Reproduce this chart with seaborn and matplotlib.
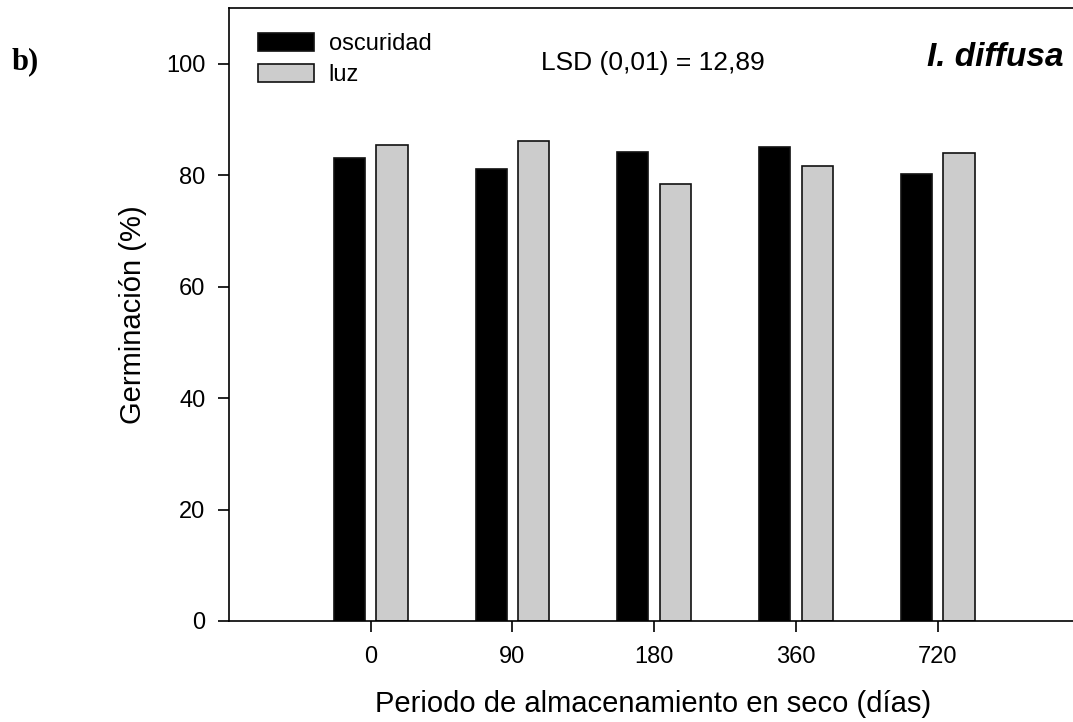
import matplotlib
matplotlib.use("Agg")
import matplotlib.pyplot as plt
import seaborn as sns
import pandas as pd

# Data
periods = ["0", "90", "180", "360", "720"]
oscuridad = [83.1, 81.1, 84.1, 85.1, 80.2]
luz = [85.4, 86.1, 78.4, 81.7, 84.0]
series_names = ["oscuridad", "luz"]

df = pd.DataFrame({
    "periodo": periods * 2,
    "germ": oscuridad + luz,
    "cond": [series_names[0]] * len(periods) + [series_names[1]] * len(periods),
})

sns.set_style("ticks")
plt.rcParams["font.family"] = ["Liberation Sans", "DejaVu Sans"]
plt.rcParams["text.color"] = "black"
plt.rcParams["axes.labelcolor"] = "black"

fig = plt.figure(figsize=(10.73, 7.22), dpi=100)
ax = fig.add_axes([0.2134, 0.1399, 0.79, 0.849])

sns.barplot(data=df, x="periodo", y="germ", hue="cond", order=periods,
            hue_order=series_names, palette=["#000000", "#cccccc"],
            width=0.6, gap=0.27, edgecolor="#111111", linewidth=1.2,
            errorbar=None, ax=ax)

ax.set_xlim(-1, 4.98)
ax.set_ylim(0, 110)
ax.set_yticks([0, 20, 40, 60, 80, 100])
ax.tick_params(axis="both", direction="out", length=8, width=1.2,
               labelsize=17, colors="black", labelcolor="black")
ax.tick_params(axis="y", pad=9)
ax.tick_params(axis="x", pad=10)
for s in ["left", "bottom", "top"]:
    ax.spines[s].set_visible(True)
    ax.spines[s].set_linewidth(1.2)
    ax.spines[s].set_color("black")
ax.spines["right"].set_visible(False)

ax.set_xlabel("Periodo de almacenamiento en seco (días)", fontsize=21, labelpad=16)
ax.set_ylabel("Germinación (%)", fontsize=21, labelpad=14)

handles, labels = ax.get_legend_handles_labels()
ax.legend(handles, labels, loc="upper left", bbox_to_anchor=(0.034, 0.959),
          frameon=False, fontsize=17, handlelength=2.4, handleheight=0.8,
          handletextpad=0.6, labelspacing=0.35, borderpad=0, borderaxespad=0)

ax.text(0.50, 0.91, "LSD (0,01) = 12,89", transform=ax.transAxes,
        fontsize=19, ha="center", va="center")
ax.text(0.985, 0.92, "I. diffusa", transform=ax.transAxes,
        fontsize=24, fontweight="bold", fontstyle="italic", ha="right", va="center")

fig.text(12 / 1073, 1 - 62 / 722, "b)", fontsize=22, fontweight="bold",
         family=["Liberation Serif", "DejaVu Serif"], ha="left", va="center")

fig.savefig("out.png", dpi=100)
